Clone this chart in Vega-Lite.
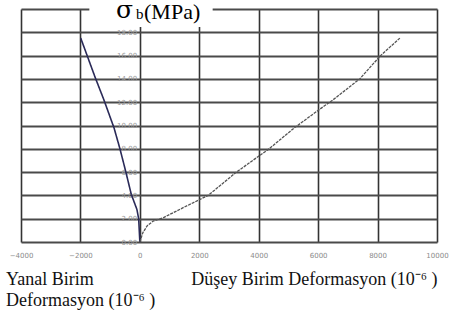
{
  "$schema": "https://vega.github.io/schema/vega-lite/v6.json",
  "width": 416,
  "height": 233,
  "autosize": "none",
  "padding": {"left": 21, "top": 9, "right": 12, "bottom": 80},
  "background": "white",
  "config": {"view": {"stroke": null}},
  "layer": [
    {
      "data": {
        "values": [
          {"series": "Yanal", "strain": 0, "stress": 0},
          {"series": "Yanal", "strain": -20, "stress": 1.0},
          {"series": "Yanal", "strain": -40, "stress": 2.0},
          {"series": "Yanal", "strain": -100, "stress": 2.8},
          {"series": "Yanal", "strain": -290, "stress": 4.1},
          {"series": "Yanal", "strain": -480, "stress": 6.1},
          {"series": "Yanal", "strain": -670, "stress": 8.0},
          {"series": "Yanal", "strain": -870, "stress": 9.8},
          {"series": "Yanal", "strain": -1210, "stress": 12.2},
          {"series": "Yanal", "strain": -1500, "stress": 14.1},
          {"series": "Yanal", "strain": -1990, "stress": 17.5},
          {"series": "Dusey", "strain": 0, "stress": 0},
          {"series": "Dusey", "strain": 100, "stress": 0.8},
          {"series": "Dusey", "strain": 250, "stress": 1.4},
          {"series": "Dusey", "strain": 450, "stress": 1.8},
          {"series": "Dusey", "strain": 800, "stress": 2.1},
          {"series": "Dusey", "strain": 1500, "stress": 3.0},
          {"series": "Dusey", "strain": 2300, "stress": 4.0},
          {"series": "Dusey", "strain": 3250, "stress": 6.0},
          {"series": "Dusey", "strain": 4350, "stress": 8.0},
          {"series": "Dusey", "strain": 5200, "stress": 9.8},
          {"series": "Dusey", "strain": 6000, "stress": 11.3},
          {"series": "Dusey", "strain": 6500, "stress": 12.2},
          {"series": "Dusey", "strain": 7400, "stress": 14.0},
          {"series": "Dusey", "strain": 8100, "stress": 16.0},
          {"series": "Dusey", "strain": 8750, "stress": 17.5}
        ]
      },
      "mark": {"type": "line", "clip": false},
      "encoding": {
        "x": {
          "field": "strain", "type": "quantitative",
          "scale": {"domain": [-4000, 10000], "nice": false, "zero": false},
          "axis": {
            "orient": "bottom",
            "values": [-4000, -2000, 0, 2000, 4000, 6000, 8000, 10000],
            "tickCount": 20,
            "format": "d",
            "grid": true, "gridColor": "#333333", "gridWidth": 1.6, "gridOpacity": 1,
            "domain": false, "ticks": false,
            "labelColor": "#8a8a8a", "labelFontSize": 7, "labelPadding": 9,
            "labelFont": "DejaVu Sans", "labelOverlap": false, "labelBound": false, "labelFlush": false,
            "title": "Düşey Birim Deformasyon (10⁻⁶ )",
            "titleFont": "Liberation Serif", "titleFontSize": 18, "titleFontWeight": "normal",
            "titleColor": "#111111", "titleAlign": "right", "titleBaseline": "alphabetic",
            "titleX": 416, "titleY": 42, "zindex": 0
          }
        },
        "y": {
          "field": "stress", "type": "quantitative",
          "scale": {"domain": [0, 20], "nice": false, "zero": true},
          "axis": {
            "orient": "left", "offset": -118.6,
            "values": [0, 2, 4, 6, 8, 10, 12, 14, 16, 18, 20],
            "tickCount": 30,
            "labelExpr": "datum.value == 20 ? '' : format(datum.value, '.2f')",
            "grid": true, "gridColor": "#4a4a4a", "gridWidth": 2, "gridOpacity": 1,
            "domain": false, "ticks": false,
            "labelColor": "#999999", "labelFontSize": 7, "labelPadding": 3,
            "labelFont": "DejaVu Sans", "labelOverlap": false, "labelBound": false,
            "title": ["Yanal Birim", "Deformasyon (10⁻⁶ )"],
            "titleAngle": 0, "titleX": -134, "titleY": 275, "titleAlign": "left",
            "titleBaseline": "alphabetic", "titleLineHeight": 21,
            "titleFont": "Liberation Serif", "titleFontSize": 18, "titleFontWeight": "normal",
            "titleColor": "#111111", "zindex": 0
          }
        },
        "order": {"field": "stress", "type": "quantitative"},
        "color": {
          "field": "series", "type": "nominal", "legend": null,
          "scale": {"domain": ["Yanal", "Dusey"], "range": ["#2a2a58", "#555555"]}
        },
        "strokeDash": {
          "field": "series", "type": "nominal", "legend": null,
          "scale": {"domain": ["Yanal", "Dusey"], "range": [[1, 0], [3, 1]]}
        },
        "strokeWidth": {
          "field": "series", "type": "nominal", "legend": null,
          "scale": {"domain": ["Yanal", "Dusey"], "range": [1.6, 1.3]}
        }
      }
    },
    {
      "data": {"values": [{}]},
      "mark": {"type": "rect", "color": "white", "clip": false},
      "encoding": {
        "x": {"datum": -1700, "type": "quantitative"},
        "x2": {"datum": 2450},
        "y": {"datum": 18.45, "type": "quantitative"},
        "y2": {"datum": 21.5}
      }
    },
    {
      "data": {"values": [{}]},
      "mark": {"type": "text", "text": "σ", "font": "DejaVu Serif", "fontSize": 25, "fontWeight": "normal", "align": "left", "baseline": "alphabetic", "color": "black", "clip": false},
      "encoding": {
        "x": {"datum": -800, "type": "quantitative"},
        "y": {"datum": 19.25, "type": "quantitative"}
      }
    },
    {
      "data": {"values": [{}]},
      "mark": {"type": "text", "text": "b", "font": "Liberation Serif", "fontSize": 15, "fontWeight": "normal", "align": "left", "baseline": "alphabetic", "color": "black", "clip": false},
      "encoding": {
        "x": {"datum": -130, "type": "quantitative"},
        "y": {"datum": 19.15, "type": "quantitative"}
      }
    },
    {
      "data": {"values": [{}]},
      "mark": {"type": "text", "text": "(MPa)", "font": "Liberation Serif", "fontSize": 22, "fontWeight": "normal", "align": "left", "baseline": "alphabetic", "color": "black", "clip": false},
      "encoding": {
        "x": {"datum": 140, "type": "quantitative"},
        "y": {"datum": 19.15, "type": "quantitative"}
      }
    }
  ]
}
